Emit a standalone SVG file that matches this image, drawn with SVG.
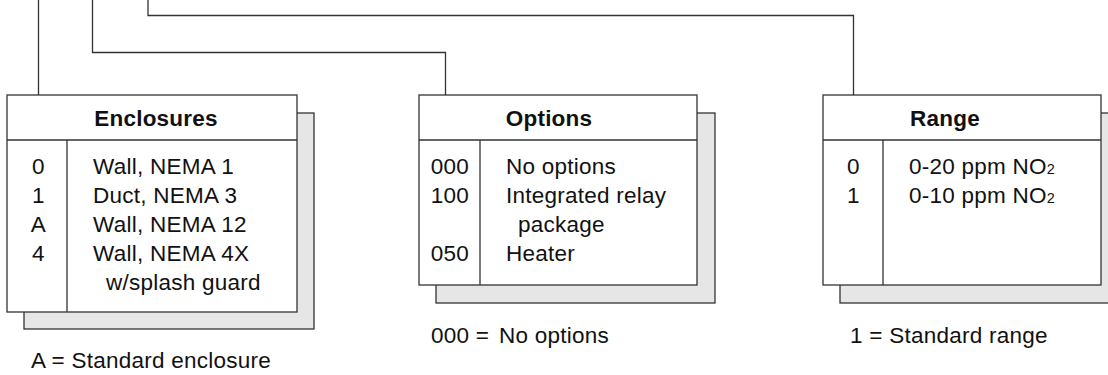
<svg xmlns="http://www.w3.org/2000/svg" width="1108" height="375" viewBox="0 0 1108 375">
<style>
.ln{fill:none;stroke:#333;stroke-width:1.3}
.box{fill:#fff;stroke:#333;stroke-width:1.3}
.sh{fill:#e6e6e6;stroke:#333;stroke-width:1.3}
text{font-family:"Liberation Sans",Arial,Helvetica,sans-serif;font-size:22.5px;fill:#111;letter-spacing:0.25px;white-space:pre}
.h{font-weight:bold;text-anchor:middle;letter-spacing:0.2px}
.c{text-anchor:middle}
.sub{font-size:14.5px;letter-spacing:0}
</style>
<rect width="1108" height="375" fill="#fff"/>
<g id="connectors">
<path class="ln" d="M38.5,0 V95"/>
<path class="ln" d="M92.5,0 V52.5 H445.5 V95"/>
<path class="ln" d="M148,0 V15.5 H853.5 V95"/>
</g>
<g id="enclosures">
<rect class="sh" x="24" y="113" width="290" height="216"/>
<rect class="box" x="7" y="95" width="290" height="217"/>
<line class="ln" x1="7" y1="140" x2="297" y2="140"/>
<line class="ln" x1="67" y1="140" x2="67" y2="312"/>
<text class="h" x="156" y="126">Enclosures</text>
<text class="c" x="38.5" y="174">0</text>
<text class="c" x="38.5" y="203">1</text>
<text class="c" x="38.5" y="232">A</text>
<text class="c" x="38.5" y="261">4</text>
<text x="93" y="174">Wall, NEMA 1</text>
<text x="93" y="203">Duct, NEMA 3</text>
<text x="93" y="232">Wall, NEMA 12</text>
<text x="93" y="261">Wall, NEMA 4X</text>
<text x="106" y="290">w/splash guard</text>
<text x="31" y="368">A = Standard enclosure</text>
</g>
<g id="options">
<rect class="sh" x="436" y="113" width="279" height="190"/>
<rect class="box" x="419" y="95" width="278" height="190"/>
<line class="ln" x1="419" y1="140" x2="697" y2="140"/>
<line class="ln" x1="480" y1="140" x2="480" y2="285"/>
<text class="h" x="549" y="126">Options</text>
<text class="c" x="450" y="174">000</text>
<text class="c" x="450" y="203">100</text>
<text class="c" x="450" y="261">050</text>
<text x="506" y="174">No options</text>
<text x="506" y="203">Integrated relay</text>
<text x="518" y="232">package</text>
<text x="506" y="261">Heater</text>
<text x="431" y="343">000 =</text>
<text x="499" y="343">No options</text>
</g>
<g id="range">
<rect class="sh" x="840" y="113" width="280" height="190"/>
<rect class="box" x="823" y="95" width="278" height="190"/>
<line class="ln" x1="823" y1="140" x2="1101" y2="140"/>
<line class="ln" x1="883" y1="140" x2="883" y2="285"/>
<text class="h" x="945" y="126">Range</text>
<text class="c" x="853.5" y="174">0</text>
<text class="c" x="853.5" y="203">1</text>
<text x="909" y="174">0-20 ppm NO<tspan class="sub">2</tspan></text>
<text x="909" y="203">0-10 ppm NO<tspan class="sub">2</tspan></text>
<text x="850" y="343">1 = Standard range</text>
</g>
</svg>
